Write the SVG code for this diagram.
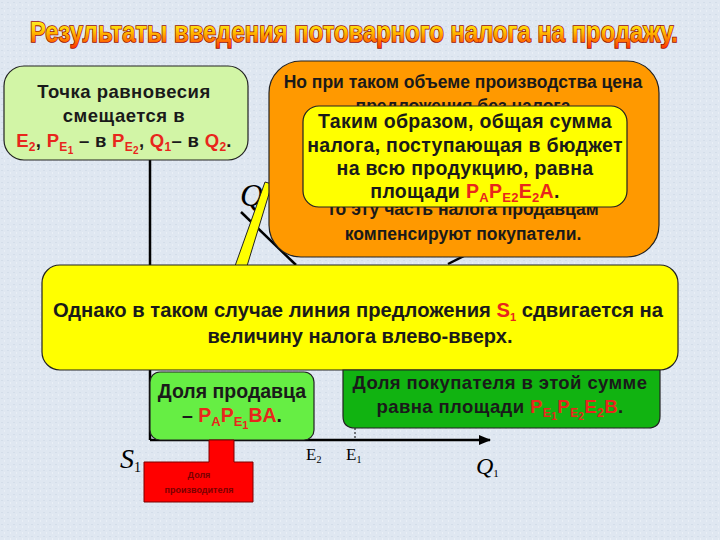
<svg xmlns="http://www.w3.org/2000/svg" width="720" height="540" viewBox="0 0 720 540">
<defs>
<linearGradient id="tg" x1="0" y1="0" x2="0" y2="1">
<stop offset="0" stop-color="#ffff33"/>
<stop offset="0.45" stop-color="#ffcc00"/>
<stop offset="1" stop-color="#ff3300"/>
</linearGradient>
<pattern id="bgp" width="6" height="6" patternUnits="userSpaceOnUse">
<rect width="6" height="6" fill="#dfe7f1"/>
<rect x="1" y="2" width="2" height="1" fill="#d3dde9"/>
<rect x="4" y="4" width="1" height="2" fill="#e9eff6"/>
</pattern>
<marker id="arr" viewBox="0 0 10 10" refX="9" refY="5" markerWidth="5" markerHeight="5" orient="auto" markerUnits="strokeWidth">
<path d="M0,1 L10,5 L0,9 z" fill="#000"/>
</marker>
<style>
.b{font-family:"Liberation Sans",Arial,sans-serif;font-weight:bold;}
.n{font-family:"Liberation Sans Narrow","Liberation Sans",Arial,sans-serif;font-weight:bold;}
.s{font-family:"Liberation Serif","Times New Roman",serif;}
.r{fill:#e8261c;}
.k{fill:#1a1a1a;}
.box{stroke:#222;stroke-width:1.2;}
.ln{stroke:#000;stroke-width:2.5;fill:none;}
</style>
</defs>
<rect width="720" height="540" fill="url(#bgp)"/>

<text id="title" x="354" y="42" text-anchor="middle" class="n" font-size="29" textLength="648" lengthAdjust="spacingAndGlyphs" fill="url(#tg)" stroke="#9a0f00" stroke-width="1.6" paint-order="stroke">Результаты введения потоварного налога на продажу.</text>

<g id="chart">
<line class="ln" x1="150" y1="160" x2="150" y2="440"/>
<line class="ln" x1="150" y1="440" x2="490" y2="440" marker-end="url(#arr)"/>
<line x1="355" y1="428" x2="355" y2="440" stroke="#000" stroke-width="1" stroke-dasharray="2,2"/>
<line class="ln" x1="241" y1="212" x2="296" y2="265" stroke-width="2"/>
<line class="ln" x1="448" y1="264" x2="470" y2="253"/>
<text x="240" y="206" class="s" font-size="32" font-style="italic">Q</text>
<text x="120" y="468" class="s" font-size="28" font-style="italic">S<tspan dy="4" font-size="14" font-style="normal">1</tspan></text>
<text x="306" y="460" class="s" font-size="17">E<tspan dy="3" font-size="10">2</tspan></text>
<text x="346" y="460" class="s" font-size="17">E<tspan dy="3" font-size="10">1</tspan></text>
<text x="476" y="474" class="s" font-size="24" font-style="italic">Q<tspan dy="3" font-size="11" font-style="normal">1</tspan></text>
</g>

<g id="tail">
<polygon points="235,266 247,266 272,184 265,182" fill="#ffff00" stroke="#222" stroke-width="1"/>
</g>

<g id="left-box">
<rect class="box" x="4" y="66" width="244" height="94" rx="20" fill="#d2f5a6"/>
<text x="124" y="98" text-anchor="middle" class="b k" font-size="18.5" letter-spacing="0.5">Точка равновесия</text>
<text x="124" y="122" text-anchor="middle" class="b k" font-size="18.5" letter-spacing="0.5">смещается в</text>
<text x="124" y="147" text-anchor="middle" class="b k" font-size="18.5" letter-spacing="0.3"><tspan class="r">E<tspan dy="4" font-size="12">2</tspan></tspan><tspan dy="-4">, </tspan><tspan class="r">P<tspan dy="4" font-size="12">E</tspan><tspan dy="3" font-size="10">1</tspan></tspan><tspan dy="-7"> – в </tspan><tspan class="r">P<tspan dy="4" font-size="12">E</tspan><tspan dy="3" font-size="10">2</tspan></tspan><tspan dy="-7">, </tspan><tspan class="r">Q<tspan dy="4" font-size="12">1</tspan></tspan><tspan dy="-4">– в </tspan><tspan class="r">Q<tspan dy="4" font-size="12">2</tspan></tspan><tspan dy="-4">.</tspan></text>
</g>

<g id="orange-box">
<rect class="box" x="269" y="61" width="390" height="196" rx="32" fill="#ff9900"/>
<text x="463" y="88" text-anchor="middle" class="b k" font-size="17.5">Но при таком объеме производства цена</text>
<text x="463" y="112" text-anchor="middle" class="b k" font-size="17.5">предложения без налога</text>
<text x="463" y="215" text-anchor="middle" class="b k" font-size="17.5">то эту часть налога продавцам</text>
<text x="463" y="240" text-anchor="middle" class="b k" font-size="17.5">компенсируют покупатели.</text>
</g>

<g id="inner-yellow">
<rect class="box" x="303" y="106" width="324" height="101" rx="16" fill="#ffff00"/>
<text x="465" y="128" text-anchor="middle" class="b k" font-size="19.5" letter-spacing="0.3">Таким образом, общая сумма</text>
<text x="465" y="152" text-anchor="middle" class="b k" font-size="19.5" letter-spacing="0.3">налога, поступающая в бюджет</text>
<text x="465" y="175" text-anchor="middle" class="b k" font-size="19.5" letter-spacing="0.3">на всю продукцию, равна</text>
<text x="465" y="198" text-anchor="middle" class="b k" font-size="19.5" letter-spacing="0.3">площади <tspan class="r">P<tspan dy="4" font-size="13">A</tspan><tspan dy="-4">P</tspan><tspan dy="4" font-size="13">E2</tspan><tspan dy="-4">E</tspan><tspan dy="4" font-size="13">2</tspan><tspan dy="-4">A</tspan></tspan>.</text>
</g>

<g id="big-yellow">
<rect class="box" x="42" y="265" width="636" height="105" rx="18" fill="#ffff00"/>
<text x="358" y="317" text-anchor="middle" class="n k" font-size="20" textLength="610" lengthAdjust="spacingAndGlyphs">Однако в таком случае линия предложения <tspan class="r">S<tspan dy="4" font-size="11">1</tspan></tspan><tspan dy="-4"> сдвигается на</tspan></text>
<text x="360" y="343" text-anchor="middle" class="n k" font-size="20" textLength="305" lengthAdjust="spacingAndGlyphs">величину налога влево-вверх.</text>
</g>

<g id="seller-box">
<rect class="box" x="150" y="372" width="164" height="68" rx="10" fill="#66ee44"/>
<text x="232" y="398" text-anchor="middle" class="b k" font-size="19.5">Доля продавца</text>
<text x="232" y="422" text-anchor="middle" class="b k" font-size="19.5">– <tspan class="r">P<tspan dy="4" font-size="13">A</tspan><tspan dy="-4">P</tspan><tspan dy="4" font-size="13">E</tspan><tspan dy="3" font-size="11">1</tspan><tspan dy="-7">BA</tspan></tspan>.</text>
</g>

<g id="buyer-box">
<path class="box" d="M343,370 H660 V416 Q660,428 648,428 H355 Q343,428 343,416 Z" fill="#11b311"/>
<text x="500" y="389" text-anchor="middle" class="b k" font-size="18.5" letter-spacing="0.4">Доля покупателя в этой сумме</text>
<text x="500" y="413" text-anchor="middle" class="b k" font-size="18.5" letter-spacing="0.4">равна площади <tspan class="r">P<tspan dy="4" font-size="12">E</tspan><tspan dy="3" font-size="10">1</tspan><tspan dy="-7">P</tspan><tspan dy="4" font-size="12">E</tspan><tspan dy="3" font-size="10">2</tspan><tspan dy="-7">E</tspan><tspan dy="4" font-size="12">2</tspan><tspan dy="-4">B</tspan></tspan>.</text>
</g>

<g id="producer-box">
<path d="M209,440 H234 V462 H253 V502 H144 V462 H209 Z" fill="#ff0000" stroke="#7a0000" stroke-width="1"/>
<text x="199" y="478" text-anchor="middle" class="b" font-size="9" fill="#7a0000">Доля</text>
<text x="199" y="493" text-anchor="middle" class="b" font-size="9" fill="#7a0000">производителя</text>
</g>
</svg>
